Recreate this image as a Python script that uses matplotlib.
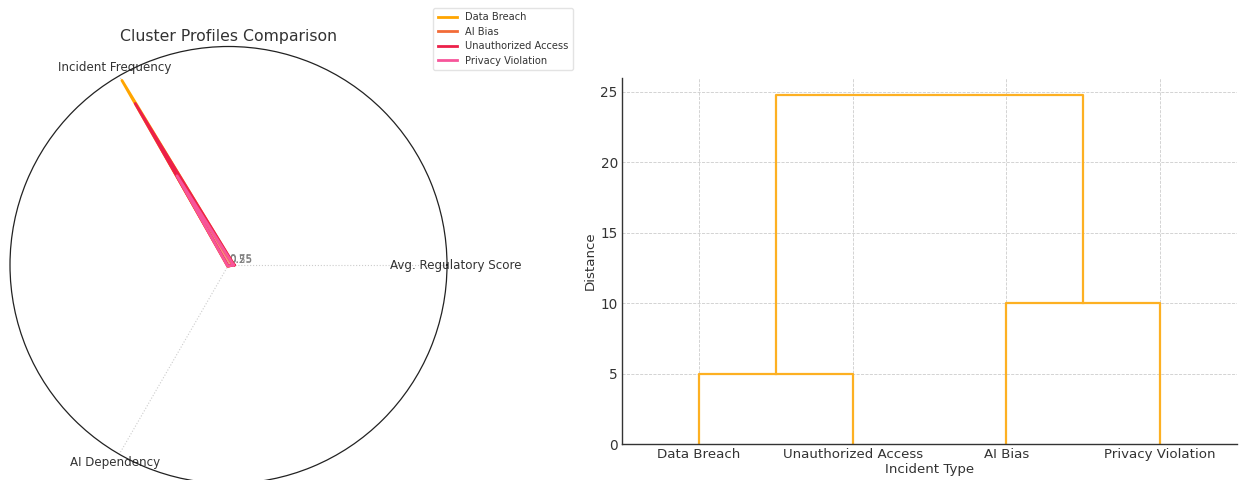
import numpy as np
import matplotlib
matplotlib.use("Agg")
import matplotlib.pyplot as plt

# ---------------- data ----------------
features = ["Avg. Regulatory Score", "Incident Frequency", "AI Dependency"]
incident_types = ["Data Breach", "AI Bias", "Unauthorized Access", "Privacy Violation"]
regulatory_score = [3.0, 2.5, 3.2, 2.8]
incident_frequency = [120, 75, 105, 58]
ai_dependency = [0.7, 0.9, 0.6, 0.8]
radar_colors = ["#FFA500", "#F26B38", "#EC2049", "#F7559A"]
radial_ticks = [0.25, 0.5, 0.75]

dendro_labels = ["Data Breach", "Unauthorized Access", "AI Bias", "Privacy Violation"]
# merges: (left child, right child, height); leaves are 0..3, new clusters 4,5,...
merges = [(0, 1, 5.0), (2, 3, 10.0), (4, 5, 24.75)]
dendro_color = "#FDB022"

text_color = "#333333"

fig = plt.figure(figsize=(12.41, 4.8), dpi=100)

# ---------------- radar ----------------
axr = fig.add_axes([10 / 1241, -4 / 480, 437 / 1241, 438 / 480], projection="polar")
n = len(features)
angles = np.linspace(0, 2 * np.pi, n, endpoint=False).tolist()
angles_closed = angles + angles[:1]
for i, name in enumerate(incident_types):
    vals = [regulatory_score[i], incident_frequency[i], ai_dependency[i]]
    vals = vals + vals[:1]
    axr.plot(angles_closed, vals, color=radar_colors[i], linewidth=2, label=name)
    axr.fill(angles_closed, vals, color=radar_colors[i], alpha=0.25)

axr.set_xticks(angles)
axr.set_xticklabels(features, fontsize=8.6, color=text_color)
axr.tick_params(axis="x", pad=-4)
axr.set_yticks(radial_ticks)
axr.set_yticklabels([str(t) for t in radial_ticks], color="grey", fontsize=7.5)
axr.set_ylim(0, max(incident_frequency) * 1.025)
axr.grid(True, color="#cccccc", linestyle=":", linewidth=0.8)
axr.spines["polar"].set_color("#222222")
axr.spines["polar"].set_linewidth(0.9)
axr.set_title("Cluster Profiles Comparison", fontsize=11.3, color=text_color, pad=4)
leg = axr.legend(loc="upper right", bbox_to_anchor=(573 / 1241, 1 - 8 / 480),
                 bbox_transform=fig.transFigure, fontsize=7.1, frameon=True,
                 borderpad=0.45, handlelength=2.0, borderaxespad=0,
                 labelspacing=0.45)
for t in leg.get_texts():
    t.set_color(text_color)
leg.get_frame().set_edgecolor("#dddddd")

# ---------------- dendrogram ----------------
axd = fig.add_axes([622 / 1241, 36 / 480, 615 / 1241, 366 / 480])
n_leaves = len(dendro_labels)
pos = {i: 5 + 10 * i for i in range(n_leaves)}
height = {i: 0.0 for i in range(n_leaves)}
for k, (a, b, h) in enumerate(merges):
    xa, xb = pos[a], pos[b]
    axd.plot([xa, xa, xb, xb], [height[a], h, h, height[b]], color=dendro_color, linewidth=1.6)
    new = n_leaves + k
    pos[new] = (xa + xb) / 2
    height[new] = h

axd.set_xlim(0, 10 * n_leaves)
axd.set_ylim(0, max(m[2] for m in merges) * 1.05)
axd.set_xticks([5 + 10 * i for i in range(n_leaves)])
axd.set_xticklabels(dendro_labels, fontsize=9.6, color=text_color)
axd.set_yticks([0, 5, 10, 15, 20, 25])
axd.tick_params(axis="y", labelsize=9.8, labelcolor=text_color, length=0, pad=3)
axd.tick_params(axis="x", length=0, pad=3)
axd.set_xlabel("Incident Type", fontsize=9.6, color=text_color, labelpad=1)
axd.set_ylabel("Distance", fontsize=9.6, color=text_color, labelpad=3)
axd.grid(True, color="#cccccc", linestyle="--", linewidth=0.6)
axd.set_axisbelow(True)
for s in ["top", "right"]:
    axd.spines[s].set_visible(False)
for s in ["left", "bottom"]:
    axd.spines[s].set_color("#333333")
    axd.spines[s].set_linewidth(1.0)

fig.savefig("out.png", dpi=100)
